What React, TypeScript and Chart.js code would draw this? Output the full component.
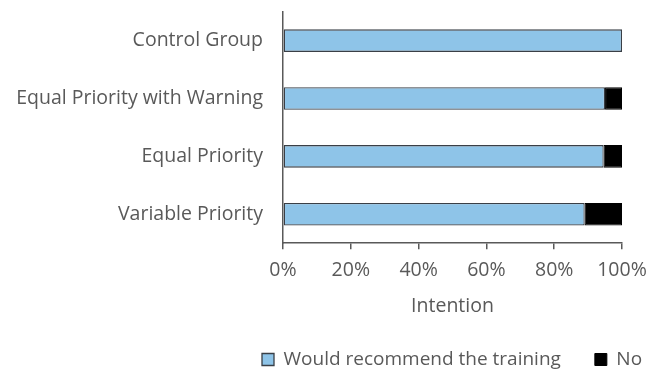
import React, { useEffect, useRef } from "react";
import { Chart, registerables } from "chart.js";

Chart.register(...registerables);

const groups = [
  "Control Group",
  "Equal Priority with Warning",
  "Equal Priority",
  "Variable Priority",
];
const recommend = [100, 95, 94.6, 89];
const notRecommend = [0, 5, 5.4, 11];
const xTicks = [0, 20, 40, 60, 80, 100];

const TEXT = "#595959";
const FONT = "'Open Sans', sans-serif";
const SIZE = 19.5;

// Keeps the legend under the plot area rather than the whole canvas.
const legendShift = {
  id: "legendShift",
  afterLayout(chart: any) {
    const lg = chart.legend;
    if (!lg) return;
    const w = lg.right - lg.left;
    lg.left = 228;
    lg.right = 228 + w;
  },
};

export default function App() {
  const ref = useRef<HTMLCanvasElement | null>(null);

  useEffect(() => {
    if (!ref.current) return;
    const chart = new Chart(ref.current, {
      type: "bar",
      data: {
        labels: groups,
        datasets: [
          {
            label: "Would recommend the training",
            data: recommend,
            backgroundColor: "#8EC4E8",
            borderColor: "#3a3f46",
            borderWidth: 1.3,
            borderSkipped: false,
            categoryPercentage: 1,
            barPercentage: 0.39,
          },
          {
            label: "No",
            data: notRecommend,
            backgroundColor: "#000000",
            borderColor: "#000000",
            borderWidth: 1,
            borderSkipped: false,
            categoryPercentage: 1,
            barPercentage: 0.39,
          },
        ],
      },
      options: {
        indexAxis: "y",
        animation: false,
        responsive: false,
        maintainAspectRatio: false,
        layout: { padding: { left: 0, right: 26, top: 10, bottom: -8 } },
        scales: {
          x: {
            stacked: true,
            min: 0,
            max: 100,
            afterBuildTicks: (scale: any) => {
              scale.ticks = xTicks.map((v) => ({ value: v }));
            },
            afterFit: (scale: any) => {
              scale.paddingRight = 0;
              scale.paddingLeft = 0;
            },
            ticks: {
              color: TEXT,
              font: { family: FONT, size: SIZE },
              padding: 10,
              maxRotation: 0,
              callback: (v: any) => v + "%",
            },
            grid: {
              drawOnChartArea: false,
              drawTicks: true,
              tickLength: 6,
              color: "#595959",
              lineWidth: 1.5,
            },
            border: { color: "#595959", width: 1.5 },
            title: {
              display: true,
              text: "Intention",
              color: TEXT,
              font: { family: FONT, size: SIZE },
              padding: { top: 2, bottom: -2 },
            },
          },
          y: {
            stacked: true,
            afterFit: (scale: any) => {
              scale.width = 283;
            },
            ticks: {
              color: TEXT,
              font: { family: FONT, size: SIZE },
              padding: 0,
            },
            grid: {
              display: true,
              drawOnChartArea: false,
              drawTicks: true,
              tickLength: 20,
              color: "rgba(0,0,0,0)",
            },
            border: { color: "#595959", width: 1.5 },
          },
        },
        plugins: {
          legend: {
            position: "bottom",
            align: "start",
            labels: {
              color: TEXT,
              font: { family: FONT, size: 19 },
              boxWidth: 12,
              boxHeight: 12,
              padding: 34,
            },
          },
          tooltip: { enabled: false },
        },
      },
      plugins: [legendShift],
    });
    return () => chart.destroy();
  }, []);

  return (
    <div style={{ position: "fixed", left: 0, top: 0, width: 648, height: 371, background: "#fff" }}>
      <canvas ref={ref} width={648} height={371} />
    </div>
  );
}
